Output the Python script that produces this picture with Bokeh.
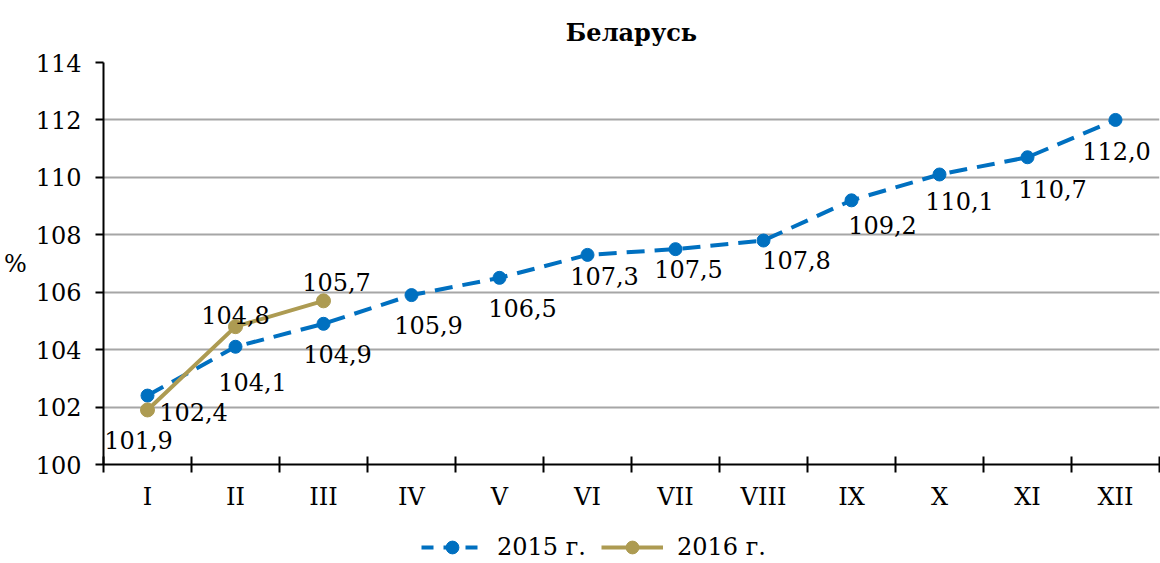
from bokeh.plotting import figure
from bokeh.layouts import column
from bokeh.models import ColumnDataSource, FixedTicker, Legend, LegendItem, Range1d
from bokeh.core.properties import value
from bokeh.embed import file_html
from bokeh.resources import INLINE

months = ["I", "II", "III", "IV", "V", "VI", "VII", "VIII", "IX", "X", "XI", "XII"]
vals_2015 = [102.4, 104.1, 104.9, 105.9, 106.5, 107.3, 107.5, 107.8, 109.2, 110.1, 110.7, 112.0]
vals_2016 = [101.9, 104.8, 105.7]
labels_2015 = ["102,4", "104,1", "104,9", "105,9", "106,5", "107,3", "107,5", "107,8", "109,2", "110,1", "110,7", "112,0"]
labels_2016 = ["101,9", "104,8", "105,7"]
series_names = ["2015 г.", "2016 г."]

# label placement (screen pixels)
dx15 = [46, 17, 14, 17, 23, 17, 13, 33, 31, 20, 25, 1]
dy15 = [16, 35, 30, 30, 30, 21, 20, 19, 25, 27, 32, 31]
dx16 = [-9, 0, 13]
dy16 = [30, -12, -19]

FONT = "DejaVu Serif"
FS = "24px"
BLUE = "#0070C0"
GOLD = "#AD9B52"

x15 = [i + 0.5 for i in range(len(vals_2015))]
x16 = [i + 0.5 for i in range(len(vals_2016))]

s15 = ColumnDataSource(dict(x=x15, y=vals_2015, t=labels_2015, dx=dx15, dy=dy15))
s16 = ColumnDataSource(dict(x=x16, y=vals_2016, t=labels_2016, dx=dx16, dy=dy16))

p = figure(width=1160, height=520, output_backend="svg", toolbar_location=None,
           x_range=Range1d(0, len(months)), y_range=Range1d(100, 114),
           min_border_left=103, min_border_right=1, min_border_top=62, min_border_bottom=56,
           title="Беларусь")
p.title.align = "center"
p.title.text_font = FONT
p.title.text_font_size = FS
p.title.text_font_style = "bold"
p.title.text_color = "black"
p.title.offset = 0
p.title.standoff = 31
p.outline_line_color = None
p.background_fill_color = "white"

# axes
p.xaxis.ticker = FixedTicker(ticks=x15, minor_ticks=list(range(len(months) + 1)))
p.xaxis.major_label_overrides = {x: m for x, m in zip(x15, months)}
p.xaxis.major_tick_in = 0
p.xaxis.major_tick_out = 0
p.xaxis.minor_tick_in = 8
p.xaxis.minor_tick_out = 8
p.xaxis.minor_tick_line_color = "black"
p.xaxis.minor_tick_line_width = 2
p.xaxis.axis_line_width = 2
p.xaxis.axis_line_color = "black"
p.xaxis.major_label_standoff = 10
p.xaxis.major_label_text_font = FONT
p.xaxis.major_label_text_font_size = FS
p.xaxis.major_label_text_color = "black"

p.yaxis.ticker = FixedTicker(ticks=list(range(100, 115, 2)), minor_ticks=[])
p.yaxis.major_tick_in = 0
p.yaxis.major_tick_out = 8
p.yaxis.major_tick_line_width = 2
p.yaxis.major_tick_line_color = "black"
p.yaxis.axis_line_width = 2
p.yaxis.axis_line_color = "black"
p.yaxis.major_label_standoff = 14
p.yaxis.major_label_text_font = FONT
p.yaxis.major_label_text_font_size = FS
p.yaxis.major_label_text_color = "black"
p.yaxis.axis_label = "%"
p.yaxis.axis_label_orientation = "horizontal"
p.yaxis.axis_label_text_font = FONT
p.yaxis.axis_label_text_font_size = FS
p.yaxis.axis_label_text_font_style = "normal"
p.yaxis.axis_label_text_color = "black"
p.yaxis.axis_label_standoff = 6

p.xgrid.grid_line_color = None
p.ygrid.grid_line_color = "#A6A6A6"
p.ygrid.grid_line_width = 2

p.line("x", "y", source=s15, line_color=BLUE, line_width=4, line_dash="18 10")
p.scatter("x", "y", source=s15, size=13, fill_color=BLUE, line_color=BLUE)
p.line("x", "y", source=s16, line_color=GOLD, line_width=4)
p.scatter("x", "y", source=s16, size=14, fill_color=GOLD, line_color=GOLD)

p.text("x", "y", text="t", x_offset="dx", y_offset="dy", source=s15,
       text_font=value(FONT), text_font_size=FS, text_color="black",
       text_align="center", text_baseline="middle")
p.text("x", "y", text="t", x_offset="dx", y_offset="dy", source=s16,
       text_font=value(FONT), text_font_size=FS, text_color="black",
       text_align="center", text_baseline="middle")

# legend strip (its renderers hold data outside the visible range)
lg = figure(width=1160, height=43, output_backend="svg", toolbar_location=None,
            x_range=Range1d(0, 1), y_range=Range1d(0, 1),
            min_border=0)
lg.axis.visible = False
lg.grid.visible = False
lg.outline_line_color = None
off = dict(x=[5, 6], y=[5, 6])
r1 = lg.line("x", "y", source=ColumnDataSource(off), line_color=BLUE, line_width=4, line_dash="12 10")
r2 = lg.scatter("x", "y", source=ColumnDataSource(off), size=13, fill_color=BLUE, line_color=BLUE)
r3 = lg.line("x", "y", source=ColumnDataSource(off), line_color=GOLD, line_width=4)
r4 = lg.scatter("x", "y", source=ColumnDataSource(off), size=14, fill_color=GOLD, line_color=GOLD)
legend = Legend(items=[LegendItem(label=series_names[0], renderers=[r1, r2]),
                       LegendItem(label=series_names[1], renderers=[r3, r4])],
                orientation="horizontal", location=(318, 0),
                label_text_font=FONT, label_text_font_size=FS, label_text_color="black",
                label_standoff=14, glyph_width=62, glyph_height=32, spacing=15,
                padding=0, margin=0,
                border_line_color=None, background_fill_alpha=0)
lg.add_layout(legend, "center")

open("out.html", "w").write(file_html(column(p, lg, spacing=0), INLINE))
